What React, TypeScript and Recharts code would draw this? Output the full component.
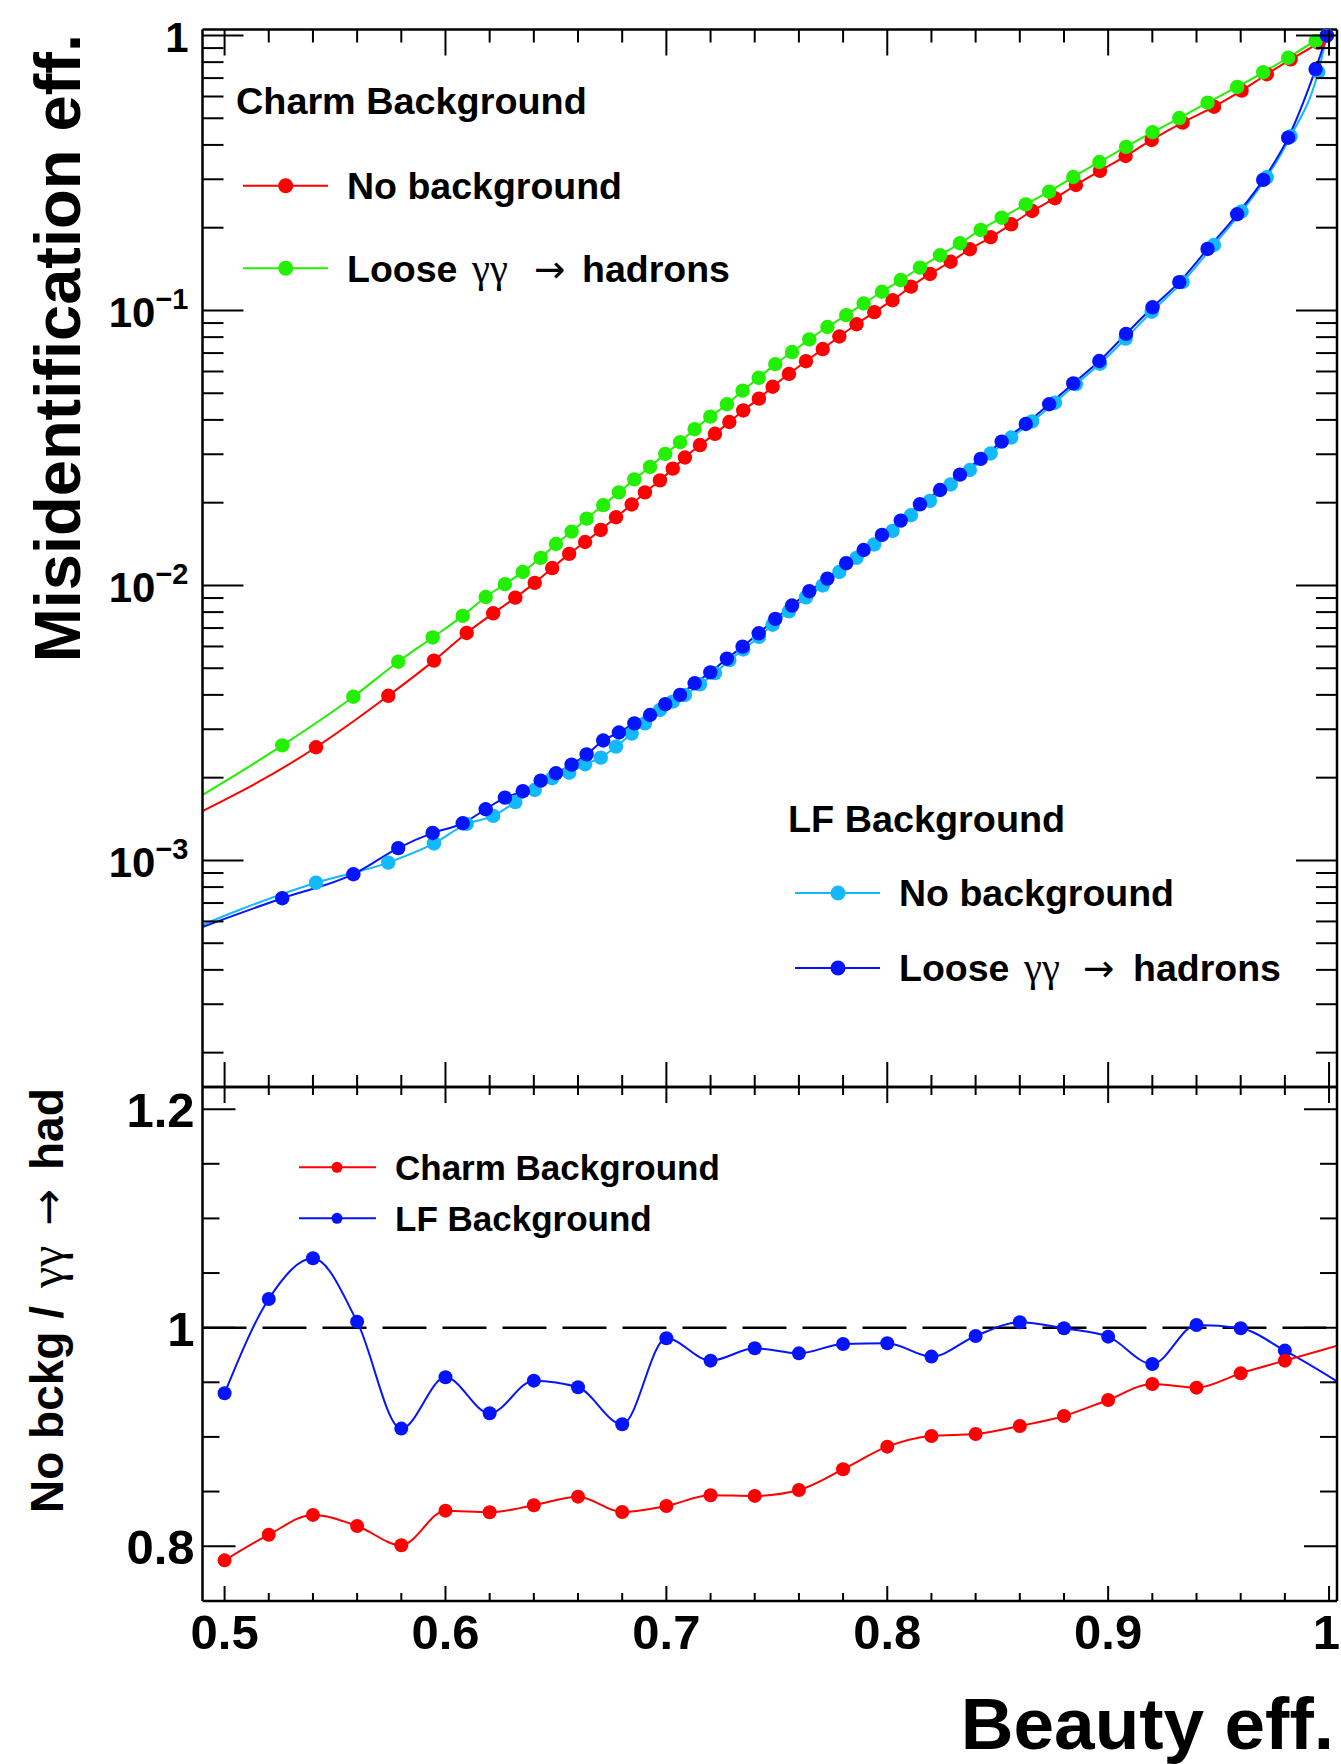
import { LineChart, Line, XAxis, YAxis, ReferenceLine } from 'recharts'

const FONT = '"Liberation Sans", Arial, Helvetica, sans-serif'
const GREEK = '"Liberation Serif", "DejaVu Serif", serif'
const ARROW = '"DejaVu Sans", sans-serif'

// beauty efficiency of each working point (first point sits left of the frame, only the line shows)
const X_NOBG = [
  0.47, 0.5414, 0.5741, 0.5948, 0.6096, 0.6216, 0.6316, 0.6404, 0.6483, 0.656, 0.6632,
  0.6703, 0.6772, 0.6843, 0.6903, 0.6971, 0.7029, 0.7084, 0.7152, 0.722, 0.7285,
  0.7348, 0.7419, 0.7481, 0.7555, 0.7632, 0.7708, 0.7783, 0.7861, 0.7941, 0.8024,
  0.8107, 0.8193, 0.8287, 0.8374, 0.8468, 0.8561, 0.8656, 0.8759, 0.8854, 0.8963,
  0.9079, 0.9197, 0.9337, 0.9479, 0.9604, 0.9718, 0.9826, 0.9951, 0.999,
]
const X_GG = [
  0.47, 0.5261, 0.5583, 0.5786, 0.5942, 0.6078, 0.6182, 0.6269, 0.635, 0.6431, 0.65,
  0.6571, 0.6639, 0.6714, 0.6785, 0.6855, 0.6926, 0.6995, 0.7062, 0.7128, 0.7199,
  0.7274, 0.7345, 0.7418, 0.7493, 0.7569, 0.7647, 0.7729, 0.7814, 0.7893, 0.7976,
  0.8061, 0.8148, 0.8239, 0.8329, 0.8423, 0.8518, 0.8627, 0.8733, 0.8842, 0.896,
  0.9081, 0.9201, 0.9322, 0.945, 0.9584, 0.9702, 0.9815, 0.9939, 0.999,
]

// misidentification efficiency
const CHARM_NOBG = [
  1.26e-3, 2.58e-3, 3.97e-3, 5.33e-3, 6.72e-3, 7.92e-3, 9.03e-3, 0.01022, 0.01157, 0.01303, 0.01439,
  0.01592, 0.0177, 0.0197, 0.0218, 0.0241, 0.0266, 0.0292, 0.0324, 0.0356, 0.0393,
  0.0433, 0.0478, 0.0528, 0.0588, 0.0654, 0.0724, 0.0804, 0.0891, 0.0986, 0.109,
  0.1221, 0.1358, 0.1504, 0.167, 0.1846, 0.2058, 0.23, 0.256, 0.286, 0.322,
  0.3645, 0.417, 0.482, 0.551, 0.63, 0.723, 0.819, 0.942, 1.0,
]
const CHARM_GG = [
  1.39e-3, 2.62e-3, 3.94e-3, 5.28e-3, 6.47e-3, 7.75e-3, 9.08e-3, 0.01011, 0.0112, 0.0126, 0.01415,
  0.0157, 0.0175, 0.0196, 0.0218, 0.0243, 0.027, 0.0301, 0.0332, 0.037, 0.0411,
  0.0456, 0.0511, 0.0569, 0.0638, 0.0706, 0.0785, 0.0871, 0.0962, 0.106, 0.117,
  0.129, 0.1432, 0.1588, 0.1756, 0.1963, 0.2175, 0.2432, 0.2704, 0.3057, 0.3467,
  0.3934, 0.4449, 0.501, 0.57, 0.65, 0.735, 0.83, 0.955, 1.0,
]
const LF_NOBG = [
  5.0e-4, 8.3e-4, 9.82e-4, 1.153e-3, 1.358e-3, 1.452e-3, 1.629e-3, 1.804e-3, 1.99e-3, 2.085e-3, 2.238e-3,
  2.365e-3, 2.594e-3, 2.892e-3, 3.153e-3, 3.526e-3, 3.779e-3, 3.996e-3, 4.37e-3, 4.8e-3, 5.35e-3,
  5.85e-3, 6.5e-3, 7.2e-3, 8.05e-3, 9.05e-3, 0.01, 0.0112, 0.0126, 0.0141, 0.0158,
  0.018, 0.0203, 0.0233, 0.0263, 0.0302, 0.0345, 0.0395, 0.0462, 0.054, 0.064,
  0.079, 0.099, 0.127, 0.173, 0.229, 0.305, 0.43, 0.736, 1.0,
]
const LF_GG = [
  5.0e-4, 7.29e-4, 8.91e-4, 1.109e-3, 1.259e-3, 1.365e-3, 1.535e-3, 1.692e-3, 1.786e-3, 1.951e-3, 2.075e-3,
  2.23e-3, 2.43e-3, 2.73e-3, 2.92e-3, 3.15e-3, 3.38e-3, 3.7e-3, 4.0e-3, 4.41e-3, 4.83e-3,
  5.42e-3, 5.99e-3, 6.7e-3, 7.56e-3, 8.45e-3, 9.53e-3, 0.01059, 0.01205, 0.01346, 0.01527,
  0.01721, 0.01973, 0.02224, 0.02529, 0.02886, 0.03335, 0.03866, 0.0456, 0.0543, 0.0655,
  0.0822, 0.1027, 0.1268, 0.1674, 0.2238, 0.2985, 0.425, 0.755, 1.0,
]

// ratio panel (last point lies right of the frame)
const RATIO_X = [
  0.5, 0.52, 0.54, 0.56, 0.58, 0.6, 0.62, 0.64, 0.66, 0.68, 0.7, 0.72, 0.74,
  0.76, 0.78, 0.8, 0.82, 0.84, 0.86, 0.88, 0.9, 0.92, 0.94, 0.96, 0.98, 1.02,
]
const RATIO_CHARM = [
  0.787, 0.8105, 0.8286, 0.8185, 0.8008, 0.8325, 0.831, 0.8374, 0.8453, 0.8313, 0.8368, 0.8466, 0.846,
  0.8514, 0.8704, 0.8911, 0.9009, 0.9027, 0.91, 0.9192, 0.9338, 0.9485, 0.9451, 0.9582, 0.9698, 0.993,
]
const RATIO_LF = [
  0.94, 1.0263, 1.0635, 1.0055, 0.9076, 0.9546, 0.9216, 0.9515, 0.9454, 0.9116, 0.9903, 0.9698, 0.9811,
  0.9765, 0.9851, 0.9857, 0.9735, 0.9924, 1.0049, 0.9994, 0.9918, 0.9668, 1.0025, 0.9994, 0.979, 0.93,
]

const X_MAJOR = [0.5, 0.6, 0.7, 0.8, 0.9, 1.0]
const LOG_MAJOR = [1e-3, 1e-2, 1e-1, 1]
const RATIO_MAJOR = [0.8, 1.0, 1.2]
const RATIO_LABELS = ['0.8', '1', '1.2']

const X_DOMAIN: [number, number] = [0.49, 1.0036]
const LOG_DOMAIN: [number, number] = [1.5e-4, 1.0515]
const RATIO_DOMAIN: [number, number] = [0.7498, 1.2203]

const RED = '#ff0000'
const GREEN = '#22f000'
const AZURE = '#12b9ff'
const BLUE = '#0414ff'

type Pt = { x: number; y: number }
const zip = (xs: number[], ys: number[]): Pt[] => xs.map((x, i) => ({ x, y: ys[i] }))

const xTicks: number[] = []
for (let i = 0; i <= 25; i++) xTicks.push(Math.round((0.5 + i * 0.02) * 100) / 100)
const logTicks: number[] = []
for (let e = -4; e <= 0; e++) {
  for (let m = 1; m <= 9; m++) {
    const v = m * Math.pow(10, e)
    if (v >= LOG_DOMAIN[0] && v <= LOG_DOMAIN[1]) logTicks.push(v)
  }
}
const ratioTicks = [0.8, 0.85, 0.9, 0.95, 1.0, 1.05, 1.1, 1.15, 1.2]

const isXMajor = (v: number) => X_MAJOR.some((b) => Math.abs(v - b) < 1e-6)
const isLogMajor = (v: number) => LOG_MAJOR.some((b) => Math.abs(v / b - 1) < 1e-6)

function xTick(dir: 1 | -1, major: number, minor: number, labels: boolean) {
  return (p: any) => {
    const v = p.payload.value as number
    const big = isXMajor(v)
    // the "1" sits on the page edge, so it is right-aligned instead of centred
    const last = Math.abs(v - 1) < 1e-6
    return (
      <g>
        <line x1={p.x} x2={p.x} y1={p.y} y2={p.y + dir * (big ? major : minor)} stroke="#000" strokeWidth={2} />
        {labels && big && (
          <text x={last ? p.x + 11 : p.x} y={p.y + 48} textAnchor={last ? 'end' : 'middle'} fontFamily={FONT}
            fontWeight="bold" fontSize={49} fill="#000">
            {String(v)}
          </text>
        )}
      </g>
    )
  }
}

function logTick(dir: 1 | -1, labels: boolean) {
  return (p: any) => {
    const v = p.payload.value as number
    const big = isLogMajor(v)
    const e = Math.round(Math.log10(v))
    return (
      <g>
        <line x1={p.x} x2={p.x + dir * (big ? 41 : 21)} y1={p.y} y2={p.y} stroke="#000" strokeWidth={2} />
        {labels && big && (
          <text x={p.x - 14} y={p.y + 17} textAnchor="end" fontFamily={FONT} fontWeight="bold" fontSize={42} fill="#000">
            {e === 0 ? '1' : (
              <>
                10
                <tspan dy={-18} fontSize={29}>{'\u2212' + String(-e)}</tspan>
              </>
            )}
          </text>
        )}
      </g>
    )
  }
}

function ratioTick(dir: 1 | -1, labels: boolean) {
  return (p: any) => {
    const v = p.payload.value as number
    const k = RATIO_MAJOR.findIndex((b) => Math.abs(v - b) < 1e-6)
    const big = k >= 0
    return (
      <g>
        <line x1={p.x} x2={p.x + dir * (big ? 33 : 17)} y1={p.y} y2={p.y} stroke="#000" strokeWidth={2} />
        {labels && big && (
          <text x={p.x - 8} y={p.y + 18} textAnchor="end" fontFamily={FONT} fontWeight="bold" fontSize={49} fill="#000">
            {RATIO_LABELS[k]}
          </text>
        )}
      </g>
    )
  }
}

const dotFor = (color: string, r: number) => (p: any) => {
  const { cx, cy, payload, index } = p
  if (payload.x < X_DOMAIN[0] || payload.x > X_DOMAIN[1]) return <g key={`d${index}`} />
  return <circle key={`d${index}`} cx={cx} cy={cy} r={r} fill={color} />
}

const frame = { stroke: '#000', strokeWidth: 2.5 }

// axes are 1px thick (recharts skips zero-sized axes); margins leave the frame at the measured place
function TopPanel() {
  const series = [
    { name: 'charm-nobg', data: zip(X_NOBG, CHARM_NOBG), color: RED },
    { name: 'charm-gg', data: zip(X_GG, CHARM_GG), color: GREEN },
    { name: 'lf-nobg', data: zip(X_NOBG, LF_NOBG), color: AZURE },
    { name: 'lf-gg', data: zip(X_GG, LF_GG), color: BLUE },
  ]
  return (
    <LineChart width={1341} height={1100} margin={{ top: 28.5, right: 3, bottom: 12, left: 201.5 }}>
      <XAxis xAxisId="b" type="number" dataKey="x" domain={X_DOMAIN} allowDataOverflow ticks={xTicks} interval={0}
        height={1} tickSize={0} tickMargin={0} tickLine={false} axisLine={frame} tick={xTick(-1, 25, 12, false)} />
      <XAxis xAxisId="t" orientation="top" type="number" dataKey="x" domain={X_DOMAIN} allowDataOverflow ticks={xTicks}
        interval={0} height={1} tickSize={0} tickMargin={0} tickLine={false} axisLine={frame} tick={xTick(1, 26, 13, false)} />
      <YAxis yAxisId="l" type="number" scale="log" domain={LOG_DOMAIN} allowDataOverflow ticks={logTicks} interval={0}
        width={1} tickSize={0} tickMargin={0} tickLine={false} axisLine={frame} tick={logTick(1, true)} />
      <YAxis yAxisId="r" orientation="right" type="number" scale="log" domain={LOG_DOMAIN} allowDataOverflow ticks={logTicks}
        interval={0} width={1} tickSize={0} tickMargin={0} tickLine={false} axisLine={frame} tick={logTick(-1, false)} />
      {series.map((s) => (
        <Line key={s.name} xAxisId="b" yAxisId="l" data={s.data} dataKey="y" type="monotoneX" stroke={s.color}
          strokeWidth={2} dot={dotFor(s.color, 7.2)} activeDot={false} isAnimationActive={false} />
      ))}
    </LineChart>
  )
}

function RatioPanel() {
  return (
    <LineChart width={1341} height={727} margin={{ top: 49, right: 3, bottom: 162, left: 201.5 }}>
      <XAxis xAxisId="b" type="number" dataKey="x" domain={X_DOMAIN} allowDataOverflow ticks={xTicks} interval={0}
        height={1} tickSize={0} tickMargin={0} tickLine={false} axisLine={frame} tick={xTick(-1, 15, 8, true)} />
      <XAxis xAxisId="t" orientation="top" type="number" dataKey="x" domain={X_DOMAIN} allowDataOverflow ticks={xTicks}
        interval={0} height={1} tickSize={0} tickMargin={0} tickLine={false} axisLine={frame} tick={xTick(1, 16, 8, false)} />
      <YAxis yAxisId="l" type="number" domain={RATIO_DOMAIN} allowDataOverflow ticks={ratioTicks} interval={0}
        width={1} tickSize={0} tickMargin={0} tickLine={false} axisLine={frame} tick={ratioTick(1, true)} />
      <YAxis yAxisId="r" orientation="right" type="number" domain={RATIO_DOMAIN} allowDataOverflow ticks={ratioTicks}
        interval={0} width={1} tickSize={0} tickMargin={0} tickLine={false} axisLine={frame} tick={ratioTick(-1, false)} />
      <ReferenceLine xAxisId="b" yAxisId="l" y={1} stroke="#000" strokeWidth={2.5} strokeDasharray="44 16" />
      <Line xAxisId="b" yAxisId="l" data={zip(RATIO_X, RATIO_LF)} dataKey="y" type="monotoneX" stroke={BLUE}
        strokeWidth={2} dot={dotFor(BLUE, 7)} activeDot={false} isAnimationActive={false} />
      <Line xAxisId="b" yAxisId="l" data={zip(RATIO_X, RATIO_CHARM)} dataKey="y" type="monotoneX" stroke={RED}
        strokeWidth={2} dot={dotFor(RED, 7)} activeDot={false} isAnimationActive={false} />
    </LineChart>
  )
}

function Entry({ y, x1, x2, mx, color, r, tx, fs, children }: any) {
  return (
    <g>
      <line x1={x1} x2={x2} y1={y} y2={y} stroke={color} strokeWidth={2} />
      <circle cx={mx} cy={y} r={r} fill={color} />
      <text x={tx} y={y + fs * 0.358} fontFamily={FONT} fontWeight="bold" fontSize={fs} fill="#000">
        {children}
      </text>
    </g>
  )
}

function GammaText({ y, xs, fs }: { y: number; xs: number[]; fs: number }) {
  const base = y + fs * 0.358
  return (
    <g>
      <text x={xs[0]} y={base} fontFamily={FONT} fontWeight="bold" fontSize={fs}>Loose</text>
      <text x={xs[1]} y={base} fontFamily={GREEK} fontSize={fs + 3}>γγ</text>
      <text x={xs[2]} y={base} fontFamily={ARROW} fontSize={fs}>→</text>
      <text x={xs[3]} y={base} fontFamily={FONT} fontWeight="bold" fontSize={fs}>hadrons</text>
    </g>
  )
}

function Overlay() {
  return (
    <svg width={1341} height={1764} style={{ position: 'absolute', left: 0, top: 0, pointerEvents: 'none' }}>
      {/* charm legend */}
      <text x={236} y={114} fontFamily={FONT} fontWeight="bold" fontSize={37.8}>Charm Background</text>
      <Entry y={185.7} x1={243} x2={328} mx={285.7} color={RED} r={7.5} tx={347} fs={37.5}>No background</Entry>
      <line x1={243} x2={328} y1={268.3} y2={268.3} stroke={GREEN} strokeWidth={2} />
      <circle cx={285.7} cy={268.3} r={7.5} fill={GREEN} />
      <GammaText y={268.3} xs={[347, 472, 534, 582]} fs={37.5} />

      {/* LF legend */}
      <text x={788} y={832} fontFamily={FONT} fontWeight="bold" fontSize={37.8}>LF Background</text>
      <Entry y={893} x1={795} x2={880} mx={838} color={AZURE} r={7.5} tx={899} fs={37.5}>No background</Entry>
      <line x1={795} x2={880} y1={968} y2={968} stroke={BLUE} strokeWidth={2} />
      <circle cx={838} cy={968} r={7.5} fill={BLUE} />
      <GammaText y={968} xs={[899, 1024, 1083, 1133]} fs={37.5} />

      {/* ratio legend */}
      <Entry y={1167.3} x1={299} x2={376} mx={337} color={RED} r={5.5} tx={395} fs={35}>Charm Background</Entry>
      <Entry y={1218.3} x1={299} x2={376} mx={337} color={BLUE} r={5.5} tx={395} fs={35}>LF Background</Entry>

      {/* axis titles */}
      <text transform="translate(80,34) rotate(-90)" textAnchor="end" fontFamily={FONT} fontWeight="bold" fontSize={65}>
        Misidentification eff.
      </text>
      <g transform="translate(63,1513) rotate(-90)">
        <text x={0} y={0} fontFamily={FONT} fontWeight="bold" fontSize={46}>No bckg /</text>
        <text x={225} y={0} fontFamily={GREEK} fontSize={48}>γγ</text>
        <text x={287} y={0} fontFamily={ARROW} fontSize={44}>→</text>
        <text x={343} y={0} fontFamily={FONT} fontWeight="bold" fontSize={46}>had</text>
      </g>
      <text x={1334} y={1749} textAnchor="end" fontFamily={FONT} fontWeight="bold" fontSize={73}>Beauty eff.</text>
    </svg>
  )
}

export default function App() {
  return (
    <div style={{ position: 'absolute', left: 0, top: 0, width: 1341, height: 1764, background: '#fff' }}>
      <div style={{ position: 'absolute', left: 0, top: 0 }}>
        <TopPanel />
      </div>
      <div style={{ position: 'absolute', left: 0, top: 1037 }}>
        <RatioPanel />
      </div>
      <Overlay />
    </div>
  )
}
